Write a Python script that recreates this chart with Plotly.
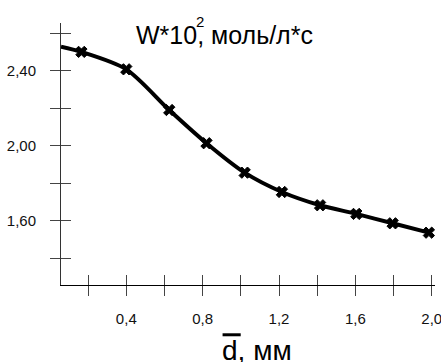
import plotly.graph_objects as go

# Data
d_mm = [0.165, 0.40, 0.625, 0.82, 1.02, 1.215, 1.415, 1.605, 1.795, 1.985]
w_rate = [2.50, 2.407, 2.19, 2.013, 1.856, 1.753, 1.682, 1.636, 1.586, 1.536]
curve_start_x = [0.058]
curve_start_y = [2.528]

x_tickvals = [0.2, 0.4, 0.6, 0.8, 1.0, 1.2, 1.4, 1.6, 1.8, 2.0]
x_ticktext = ["", "0,4", "", "0,8", "", "1,2", "", "1,6", "", "2,0"]
y_tickvals = [1.4, 1.6, 1.8, 2.0, 2.2, 2.4, 2.6]
y_ticktext = ["", "1,60", "", "2,00", "", "2,40", ""]

x_range = [0.058, 2.017]
y_range = [1.257, 2.654]

FONT = "Liberation Sans, Arial, sans-serif"

fig = go.Figure()

fig.add_trace(go.Scatter(
    x=curve_start_x + d_mm, y=curve_start_y + w_rate,
    mode="lines", line=dict(color="black", width=4, shape="spline", smoothing=0.8),
    hoverinfo="skip", showlegend=False, xaxis="x", yaxis="y"))

fig.add_trace(go.Scatter(
    x=d_mm, y=w_rate, mode="markers",
    marker=dict(symbol="x", size=10, color="black", line=dict(color="black", width=1)),
    showlegend=False, xaxis="x2", yaxis="y2"))

common = dict(showgrid=False, zeroline=False, automargin=False)

fig.update_layout(
    template="none",
    width=441, height=362,
    margin=dict(l=61, r=6, t=23, b=77, pad=0),
    paper_bgcolor="white", plot_bgcolor="white",
    font=dict(family=FONT, color="black"),
    xaxis=dict(range=x_range, showline=True, linecolor="black", linewidth=1,
               ticks="outside", ticklen=10, tickwidth=1, tickcolor="#444",
               tickmode="array", tickvals=x_tickvals, ticktext=x_ticktext,
               tickfont=dict(size=15, family=FONT, color="#111"),
               ticklabelstandoff=10, ticklabeloverflow="allow", **common),
    yaxis=dict(range=y_range, showline=True, linecolor="#333", linewidth=1,
               ticks="outside", ticklen=10, tickwidth=1, tickcolor="#444",
               tickmode="array", tickvals=y_tickvals, ticktext=y_ticktext,
               tickfont=dict(size=15, family=FONT, color="#111"),
               ticklabelstandoff=11, ticklabeloverflow="allow", **common),
    xaxis2=dict(range=x_range, overlaying="x", anchor="y2", showline=False,
                ticks="inside", ticklen=10, tickwidth=1, tickcolor="#444",
                tickmode="array", tickvals=x_tickvals, showticklabels=False, **common),
    yaxis2=dict(range=y_range, overlaying="y", anchor="x2", showline=False,
                ticks="inside", ticklen=10, tickwidth=1, tickcolor="#444",
                tickmode="array", tickvals=y_tickvals, showticklabels=False, **common),
)

# Titles
fig.add_annotation(text="W*10, моль/л*с", xref="paper", yref="paper",
                   x=0.4377, y=0.955, xanchor="center", yanchor="middle",
                   showarrow=False, font=dict(size=25, family=FONT, color="black"))
fig.add_annotation(text="2", xref="paper", yref="paper",
                   x=0.372, y=1.006, xanchor="center", yanchor="middle",
                   showarrow=False, font=dict(size=15, family=FONT, color="black"))
fig.add_annotation(text="d, мм", xref="paper", yref="paper",
                   x=0.523, y=-0.25, xanchor="center", yanchor="middle",
                   showarrow=False, font=dict(size=28, family=FONT, color="black"))
fig.add_shape(type="line", xref="paper", yref="paper",
              x0=0.432, x1=0.4805, y0=-0.19, y1=-0.19,
              line=dict(color="black", width=3))

fig.write_html(
    "out.html",
    config={"displayModeBar": False},
    post_script="document.body.style.margin='0';"
                "document.documentElement.style.overflow='hidden';",
)
